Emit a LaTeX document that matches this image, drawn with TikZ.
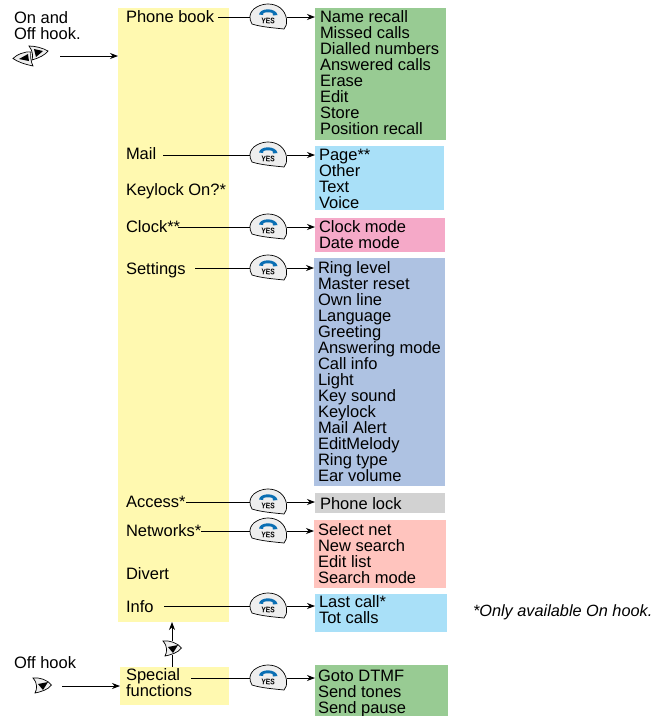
\documentclass[tikz,border=0pt]{standalone}
\usepackage{fontspec}
\setmainfont{Liberation Sans}
\usetikzlibrary{arrows.meta,calc}
\definecolor{menuyellow}{HTML}{FFF9B0}
\definecolor{listgreen}{HTML}{98CB93}
\definecolor{listcyan}{HTML}{A9E0F8}
\definecolor{listpink}{HTML}{F5A9C8}
\definecolor{listblue}{HTML}{AEC2E2}
\definecolor{listgray}{HTML}{D2D2D2}
\definecolor{listrose}{HTML}{FFC4BE}
\definecolor{keyfill}{HTML}{EEEEEE}
\definecolor{handset}{HTML}{0A6FB4}
\tikzset{
  x=1pt,y=-1pt,
  panel/.style={anchor=north west,inner sep=0pt,outer sep=0pt},
  lbl/.style={anchor=west,inner sep=0pt,outer sep=0pt,font=\fontsize{16.5}{16}\selectfont},
  listtxt/.style={anchor=north west,inner sep=0pt,outer sep=0pt,align=left,font=\fontsize{16.5}{16}\selectfont},
  link/.style={draw=black,line width=0.8pt},
  arrow/.style={link,-{Stealth[length=8pt,width=6pt]}},
  keyanchor/.style={inner sep=0pt,outer sep=0pt,minimum width=37pt,minimum height=24pt},
  navanchor/.style={inner sep=0pt,outer sep=0pt,minimum width=18pt,minimum height=14pt},
}
% \yeskey{name}{x}{y}
\newcommand{\yeskey}[3]{%
  \node[keyanchor] (#1) at (#2,#3) {};
  \begin{scope}[shift={(#2,#3)}]
    \draw[fill=keyfill,line width=0.7pt] (-18,-1) .. controls (-17,-9) and (-7,-13) .. (0,-13)
      .. controls (9,-13) and (17,-8) .. (18.5,2)
      .. controls (19,7) and (18,10) .. (16,12)
      .. controls (7,11) and (-7,10) .. (-16,7)
      .. controls (-18,4) and (-18,2) .. (-18,-1) -- cycle;
    \fill[handset] (-9,-2.5) .. controls (-8,-9.5) and (8,-9.5) .. (9.5,-2)
      -- (5,-1.5) -- (4.5,-4) .. controls (2,-5) and (-2,-5) .. (-4.5,-4) -- (-5,-2) -- cycle;
    \node[inner sep=0pt,font=\bfseries\fontsize{8}{8}\selectfont,xscale=.85,rotate=-5] at (0,4) {YES};
  \end{scope}}
% \navkey{name}{x}{y}
\newcommand{\navkey}[3]{%
  \node[navanchor] (#1) at (#2,#3) {};
  \begin{scope}[shift={(#2,#3)}]
    \draw[fill=keyfill,line width=0.7pt] (-9,-7) .. controls (-3,-8) and (6,-5) .. (9.5,0)
      .. controls (6,5) and (-2,7) .. (-7,8)
      .. controls (-5,4) and (-4,-1) .. (-9,-7) -- cycle;
    \fill[black] (6,-3) -- (-4,-1) -- (1,5) -- cycle;
  \end{scope}}
% \listbox{name}{colour}{x0}{y0}{x1}{y1}{textx}{texty}{text}
\newcommand{\listbox}[9]{%
  \path let \n1={#5-#3},\n2={#6-#4} in node[panel,fill=#2,minimum width=\n1 pt,minimum height=\n2 pt] (#1) at (#3,#4) {};
  \node[listtxt] (#1t) at (#7,#8) {#9};}
\begin{document}
\begin{tikzpicture}
\useasboundingbox (0,0) rectangle (651,716);
% panels
\node[panel,fill=menuyellow,minimum width=111pt,minimum height=614pt] (menu) at (118,8) {};
\listbox{special}{menuyellow}{120}{667}{229}{705}{126}{669}{Special\\functions}
\listbox{phone}{listgreen}{315}{8}{446}{140}{320}{11}{Name recall\\Missed calls\\Dialled numbers\\Answered calls\\Erase\\Edit\\Store\\Position recall}
\listbox{mail}{listcyan}{315}{146}{444}{210}{319}{149}{Page**\\Other\\Text\\Voice}
\listbox{clock}{listpink}{315}{218}{445}{252}{319}{221}{Clock mode\\Date mode}
\listbox{sett}{listblue}{314}{258}{445}{486}{318}{262}{Ring level\\Master reset\\Own line\\Language\\Greeting\\Answering mode\\Call info\\Light\\Key sound\\Keylock\\Mail Alert\\EditMelody\\Ring type\\Ear volume}
\listbox{access}{listgray}{315}{493}{445}{513}{320}{498}{Phone lock}
\listbox{net}{listrose}{314}{520}{446}{588}{318}{524}{Select net\\New search\\Edit list\\Search mode}
\listbox{info}{listcyan}{315}{594}{447}{632}{319}{596}{Last call*\\Tot calls}
\listbox{goto}{listgreen}{315}{665}{448}{716}{318}{670}{Goto DTMF\\Send tones\\Send pause}
% labels
\node[lbl] (lphone) at (126,17) {Phone book};
\node[lbl] (lmail) at (126,154) {Mail};
\node[lbl] (lkey) at (126,191) {Keylock On?*};
\node[lbl] (lclock) at (126,227) {Clock**};
\node[lbl] (lsett) at (126,270) {Settings};
\node[lbl] (lacc) at (126,502) {Access*};
\node[lbl] (lnet) at (126,531) {Networks*};
\node[lbl] (ldiv) at (126,574) {Divert};
\node[lbl] (linfo) at (126,607) {Info};
\node[listtxt] (lon) at (14,11.5) {On and\\Off hook.};
\node[lbl] (loff) at (14,663) {Off hook};
\node[lbl,font=\itshape\fontsize{16.3}{16}\selectfont] (note) at (473,612) {*Only available On hook.};
% keys
\yeskey{y1}{268}{17}
\yeskey{y2}{268}{155}
\yeskey{y3}{268}{227}
\yeskey{y4}{268}{268}
\yeskey{y5}{268}{502}
\yeskey{y6}{268}{531}
\yeskey{y7}{268}{606}
\yeskey{y8}{268}{678}
% nav keys
\navkey{n2}{172}{648}
\navkey{n3}{42}{685}
\node[inner sep=0pt,minimum width=36pt,minimum height=20pt] (n1) at (31,56) {};
\begin{scope}[shift={(31,56)}]
  \draw[fill=keyfill,line width=0.7pt] (0,-4) .. controls (-6,-5) and (-15,-1) .. (-18,2.5)
    .. controls (-13,6) and (-7,8) .. (2,10) .. controls (0,6) and (-1,0) .. (0,-4) -- cycle;
  \fill (-3,-2) -- (-12,3) -- (-2,5) -- cycle;
  \draw[fill=keyfill,line width=0.7pt] (-2,-10) .. controls (4,-10) and (12,-8) .. (17,-5)
    .. controls (14,-1) and (8,2) .. (1,4) .. controls (2,0) and (2,-5) .. (-2,-10) -- cycle;
  \fill (3,-7) -- (12,-5) -- (5,1) -- cycle;
\end{scope}
% connectors
\coordinate (c1) at (60,56);
\coordinate (c2) at (62,686);
\coordinate (s1) at (218,17);
\coordinate (s2) at (163,155);
\coordinate (s3) at (178,227);
\coordinate (s4) at (195,268);
\coordinate (s5) at (186,502);
\coordinate (s6) at (201,531);
\coordinate (s7) at (164,606);
\coordinate (s8) at (191,678);
\draw[link] (s1) -- (y1.west);
\draw[link] (s2) -- (y2.west);
\draw[link] (s3) -- (y3.west);
\draw[link] (s4) -- (y4.west);
\draw[link] (s5) -- (y5.west);
\draw[link] (s6) -- (y6.west);
\draw[link] (s7) -- (y7.west);
\draw[link] (s8) -- (y8.west);
\draw[arrow] (y1.east) -- (phone.west |- y1.east);
\draw[arrow] (y2.east) -- (mail.west |- y2.east);
\draw[arrow] (y3.east) -- (clock.west |- y3.east);
\draw[arrow] (y4.east) -- (sett.west |- y4.east);
\draw[arrow] (y5.east) -- (access.west |- y5.east);
\draw[arrow] (y6.east) -- (net.west |- y6.east);
\draw[arrow] (y7.east) -- (info.west |- y7.east);
\draw[arrow] (y8.east) -- (goto.west |- y8.east);
\draw[arrow] (c1) -- (menu.west |- c1);
\draw[arrow] (c2) -- (special.west |- c2);
\draw[link] (special.north -| n2.south) -- (n2.south);
\draw[arrow] (n2.north) -- (menu.south -| n2.north);
\end{tikzpicture}
\end{document}
